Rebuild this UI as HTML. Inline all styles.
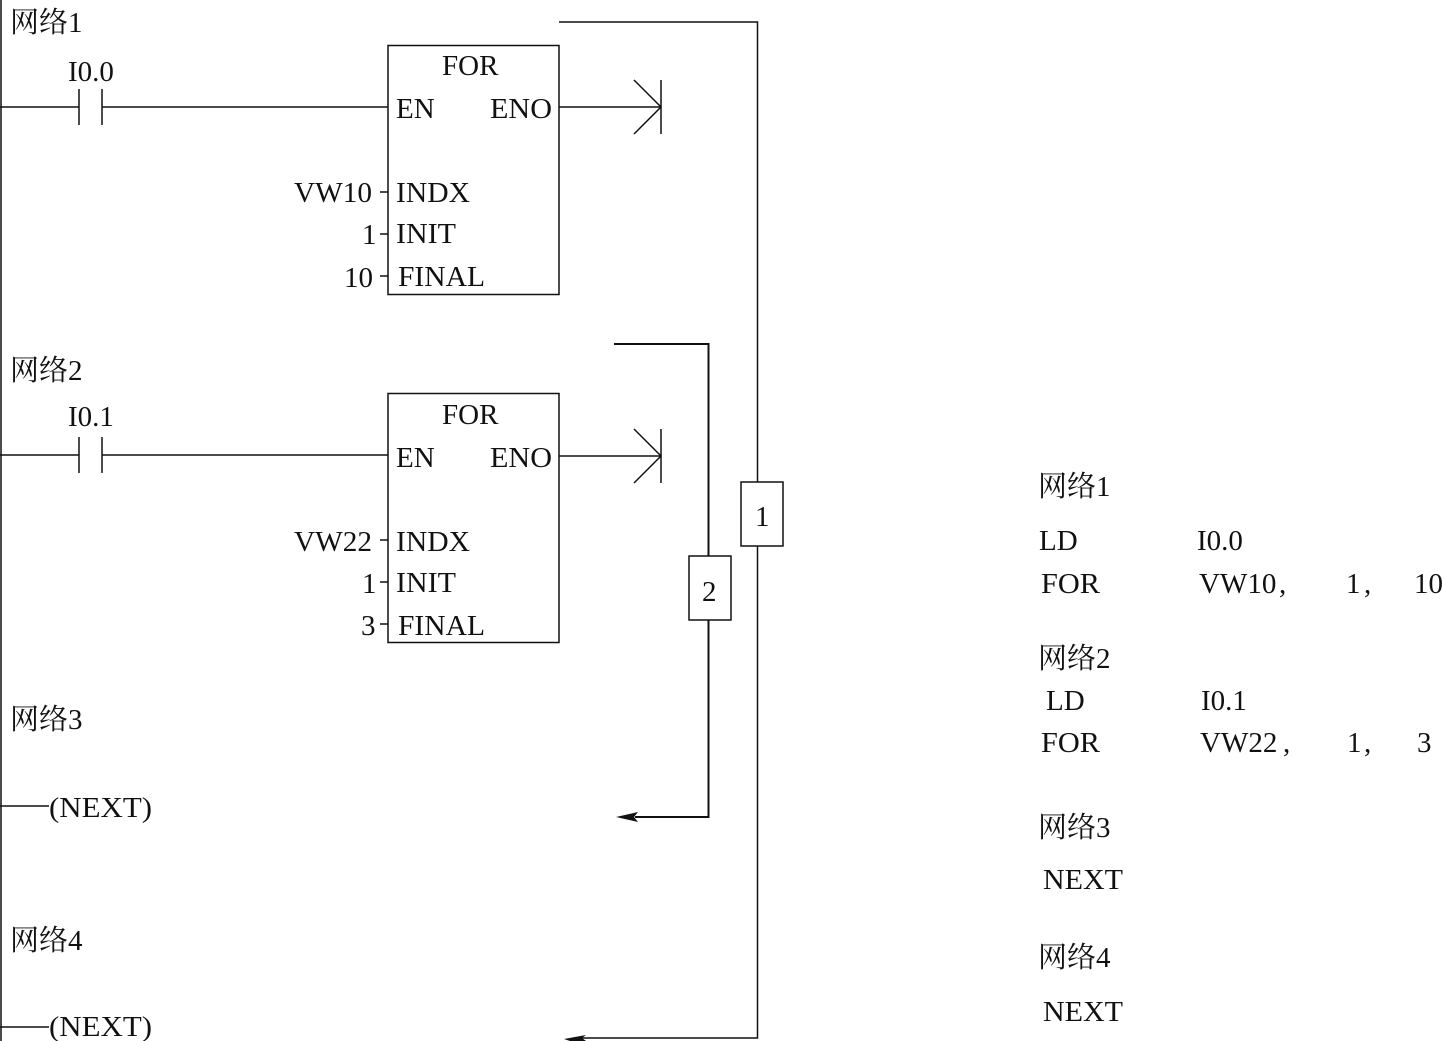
<!DOCTYPE html>
<html><head><meta charset="utf-8"><style>
html,body{margin:0;padding:0;background:#fff}
svg{display:block}
text{font-family:"Liberation Serif","Noto Serif CJK SC",serif;font-size:29px;fill:#111}
.c{font-size:29px}
</style></head><body>
<svg width="1442" height="1041" viewBox="0 0 1442 1041" xmlns="http://www.w3.org/2000/svg">
<g stroke="#111" stroke-width="1.500" fill="none">
<path d="M1 0V1041"/>
<path d="M0 107H79M79 89V125M102 89V125M102 107H388"/>
<rect x="388" y="45.500" width="171" height="249"/>
<path d="M559 107H661M634 80L661 107L634 134M661 80V134"/>
<path d="M380 192H388M380 234H388M380 276H388"/>
<path d="M559 22H757.500V482M757.500 546V1038H580"/>
<rect x="741" y="482" width="42" height="64"/>
<path d="M0 455H79M79 437V473M102 437V473M102 455H388"/>
<rect x="388" y="393.500" width="171" height="249"/>
<path d="M559 456H661M634 429L661 456L634 483M661 429V483"/>
<path d="M380 540H388M380 582H388M380 624H388"/>
<path d="M614 344H708.500V556M708.500 620V817H635" stroke-width="2"/>
<rect x="689" y="556" width="42" height="64"/>
<path d="M0 806H49M0 1027H49"/>
</g>
<path d="M616 817L638 812L634 817L638 822Z" fill="#111"/>
<path d="M564 1039L586 1035L582 1038L586 1041H570Z" fill="#111"/>
<text x="10" y="32" class="c">网络1</text>
<text x="68" y="81">I0.0</text>
<text x="442" y="75">FOR</text>
<text x="396" y="118">EN</text>
<text x="490" y="118" textLength="62" lengthAdjust="spacingAndGlyphs">ENO</text>
<text x="294" y="202" textLength="78" lengthAdjust="spacingAndGlyphs">VW10</text>
<text x="396" y="202" textLength="74" lengthAdjust="spacingAndGlyphs">INDX</text>
<text x="362" y="244">1</text>
<text x="396" y="243" textLength="60" lengthAdjust="spacingAndGlyphs">INIT</text>
<text x="344" y="287">10</text>
<text x="398" y="286" textLength="87" lengthAdjust="spacingAndGlyphs">FINAL</text>
<text x="10" y="380" class="c">网络2</text>
<text x="68" y="426">I0.1</text>
<text x="442" y="424">FOR</text>
<text x="396" y="467">EN</text>
<text x="490" y="467" textLength="62" lengthAdjust="spacingAndGlyphs">ENO</text>
<text x="294" y="551" textLength="78" lengthAdjust="spacingAndGlyphs">VW22</text>
<text x="396" y="551" textLength="74" lengthAdjust="spacingAndGlyphs">INDX</text>
<text x="362" y="593">1</text>
<text x="396" y="592" textLength="60" lengthAdjust="spacingAndGlyphs">INIT</text>
<text x="361" y="635">3</text>
<text x="398" y="635" textLength="87" lengthAdjust="spacingAndGlyphs">FINAL</text>
<text x="755" y="526">1</text>
<text x="702" y="601">2</text>
<text x="10" y="729" class="c">网络3</text>
<text x="49" y="817" textLength="103" lengthAdjust="spacingAndGlyphs">(NEXT)</text>
<text x="10" y="950" class="c">网络4</text>
<text x="49" y="1036" textLength="103" lengthAdjust="spacingAndGlyphs">(NEXT)</text>
<text x="1038" y="496" class="c">网络1</text>
<text x="1039" y="550">LD</text>
<text x="1197" y="550">I0.0</text>
<text x="1041" y="593" textLength="59" lengthAdjust="spacingAndGlyphs">FOR</text>
<text x="1199" y="593">VW10</text>
<text x="1279" y="593">,</text>
<text x="1346" y="593">1</text>
<text x="1364" y="593">,</text>
<text x="1414" y="593">10</text>
<text x="1038" y="668" class="c">网络2</text>
<text x="1046" y="710">LD</text>
<text x="1201" y="710">I0.1</text>
<text x="1041" y="752" textLength="59" lengthAdjust="spacingAndGlyphs">FOR</text>
<text x="1200" y="752">VW22</text>
<text x="1283" y="752">,</text>
<text x="1347" y="752">1</text>
<text x="1364" y="752">,</text>
<text x="1417" y="752">3</text>
<text x="1038" y="837" class="c">网络3</text>
<text x="1043" y="889" textLength="80" lengthAdjust="spacingAndGlyphs">NEXT</text>
<text x="1038" y="967" class="c">网络4</text>
<text x="1043" y="1021" textLength="80" lengthAdjust="spacingAndGlyphs">NEXT</text>
</svg>
</body></html>
